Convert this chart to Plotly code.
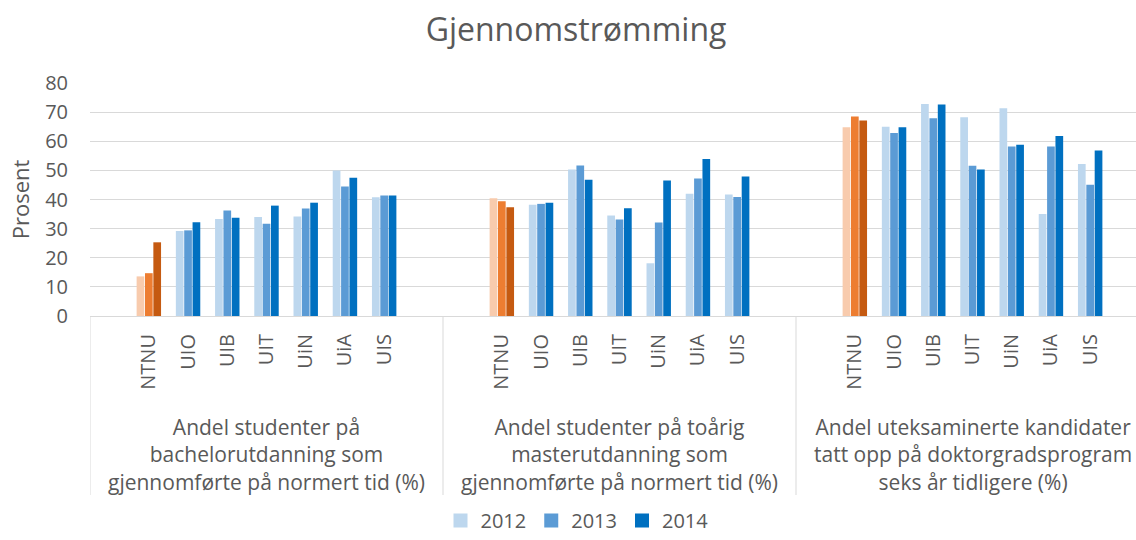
import plotly.graph_objects as go

title = "Gjennomstrømming"
universities = ["NTNU", "UIO", "UIB", "UIT", "UiN", "UiA", "UIS"]
groups = [
    "Andel studenter på<br>bachelorutdanning som<br>gjennomførte på normert tid (%)",
    "Andel studenter på toårig<br>masterutdanning som<br>gjennomførte på normert tid (%)",
    "Andel uteksaminerte kandidater<br>tatt opp på doktorgradsprogram<br>seks år tidligere (%)",
]
years = ["2012", "2013", "2014"]

# values[year] = list over groups, each list over universities
v2012 = [
    [13.6, 29.2, 33.3, 34.0, 34.2, 50.0, 40.8],
    [40.4, 38.2, 50.3, 34.5, 18.1, 42.0, 41.7],
    [64.8, 65.0, 72.8, 68.2, 71.3, 35.0, 52.2],
]
v2013 = [
    [14.7, 29.4, 36.2, 31.7, 36.9, 44.5, 41.4],
    [39.4, 38.5, 51.7, 33.1, 32.1, 47.2, 40.9],
    [68.5, 62.8, 67.9, 51.6, 58.2, 58.2, 45.1],
]
v2014 = [
    [25.3, 32.2, 33.7, 37.9, 38.9, 47.5, 41.4],
    [37.3, 38.9, 46.8, 37.0, 46.5, 53.9, 47.9],
    [67.1, 64.8, 72.6, 50.3, 58.8, 61.8, 56.8],
]
values = [v2012, v2013, v2014]

blue_colors = ["#BDD7EE", "#5B9BD5", "#0070C0"]
ntnu_colors = ["#F8CBAD", "#ED7D31", "#C55A11"]
highlight = "NTNU"

slots_per_group = len(universities) + 2  # blank slot before and after

xs, labels = [], []
for g in range(len(groups)):
    for i, u in enumerate(universities):
        xs.append(g * slots_per_group + 1 + i)
        labels.append(u)

fig = go.Figure()
for yi, year in enumerate(years):
    ys, cols = [], []
    for g in range(len(groups)):
        for i, u in enumerate(universities):
            ys.append(values[yi][g][i])
            cols.append(ntnu_colors[yi] if u == highlight else blue_colors[yi])
    fig.add_trace(go.Bar(
        x=xs, y=ys, name=year,
        marker=dict(color=cols, line=dict(width=0)),
        showlegend=False,
    ))
for yi, year in enumerate(years):
    # legend entry in blue
    fig.add_trace(go.Scatter(
        x=[None], y=[None], name=year, mode="markers",
        marker=dict(color=blue_colors[yi], symbol="square", size=14, line=dict(width=0)),
        showlegend=True,
    ))

text_color = "#595959"
grid_color = "#D9D9D9"
font_family = "Open Sans"

plot_left, plot_right_img = 90, 1136
slot_px = 353 / slots_per_group
x_end = -0.5 + (plot_right_img - plot_left) / slot_px

plot_top, plot_bottom = 83, 316
plot_h = plot_bottom - plot_top

shapes = []
for g in range(len(groups) + 1):
    xd = g * slots_per_group - 0.5
    shapes.append(dict(
        type="line", xref="x", yref="paper",
        x0=xd, x1=xd, y0=0, y1=-(495 - plot_bottom) / plot_h,
        line=dict(color=grid_color, width=1),
    ))

annotations = []
for g, glabel in enumerate(groups):
    annotations.append(dict(
        text=glabel, xref="x", yref="paper",
        x=g * slots_per_group + (slots_per_group - 1) / 2,
        y=-(454 - plot_bottom) / plot_h,
        xanchor="center", yanchor="middle",
        showarrow=False, align="center",
        font=dict(family=font_family, size=21, color=text_color),
    ))

fig.update_layout(
    width=1136, height=540,
    paper_bgcolor="white", plot_bgcolor="white",
    margin=dict(l=plot_left, r=0, t=plot_top, b=540 - plot_bottom, pad=0, autoexpand=False),
    barmode="group", bargap=0.36, bargroupgap=0.08,
    title=dict(
        text=title, xref="container", x=576 / 1136, xanchor="center",
        yref="container", y=1 - 30 / 540, yanchor="middle",
        font=dict(family=font_family, size=32, color=text_color),
    ),
    font=dict(family=font_family, color=text_color),
    legend=dict(
        orientation="h", xref="container", yref="container",
        x=577 / 1136, xanchor="center", y=0, yanchor="bottom",
        font=dict(family=font_family, size=20, color=text_color),
        itemwidth=30, traceorder="normal", borderwidth=0,
    ),
    shapes=shapes,
    annotations=annotations,
    xaxis=dict(
        range=[-0.5, x_end], automargin=False,
        tickmode="array", tickvals=xs, ticktext=labels,
        tickangle=-90, showgrid=False, zeroline=False,
        showline=True, linecolor=grid_color, linewidth=1,
        ticks="", ticklabelstandoff=9,
        tickfont=dict(family=font_family, size=20, color=text_color),
        fixedrange=True,
    ),
    yaxis=dict(
        range=[0, 80], dtick=10, showgrid=True, gridcolor=grid_color, gridwidth=1,
        zeroline=False, showline=False, ticks="", automargin=False,
        ticklabelstandoff=21,
        tickfont=dict(family=font_family, size=20, color=text_color),
        title=dict(text="Prosent", standoff=9,
                   font=dict(family=font_family, size=22, color=text_color)),
        fixedrange=True,
    ),
)

fig.write_html(
    "out.html",
    config={"displayModeBar": False},
    post_script="document.body.style.margin='0';document.body.style.overflow='hidden';",
)
